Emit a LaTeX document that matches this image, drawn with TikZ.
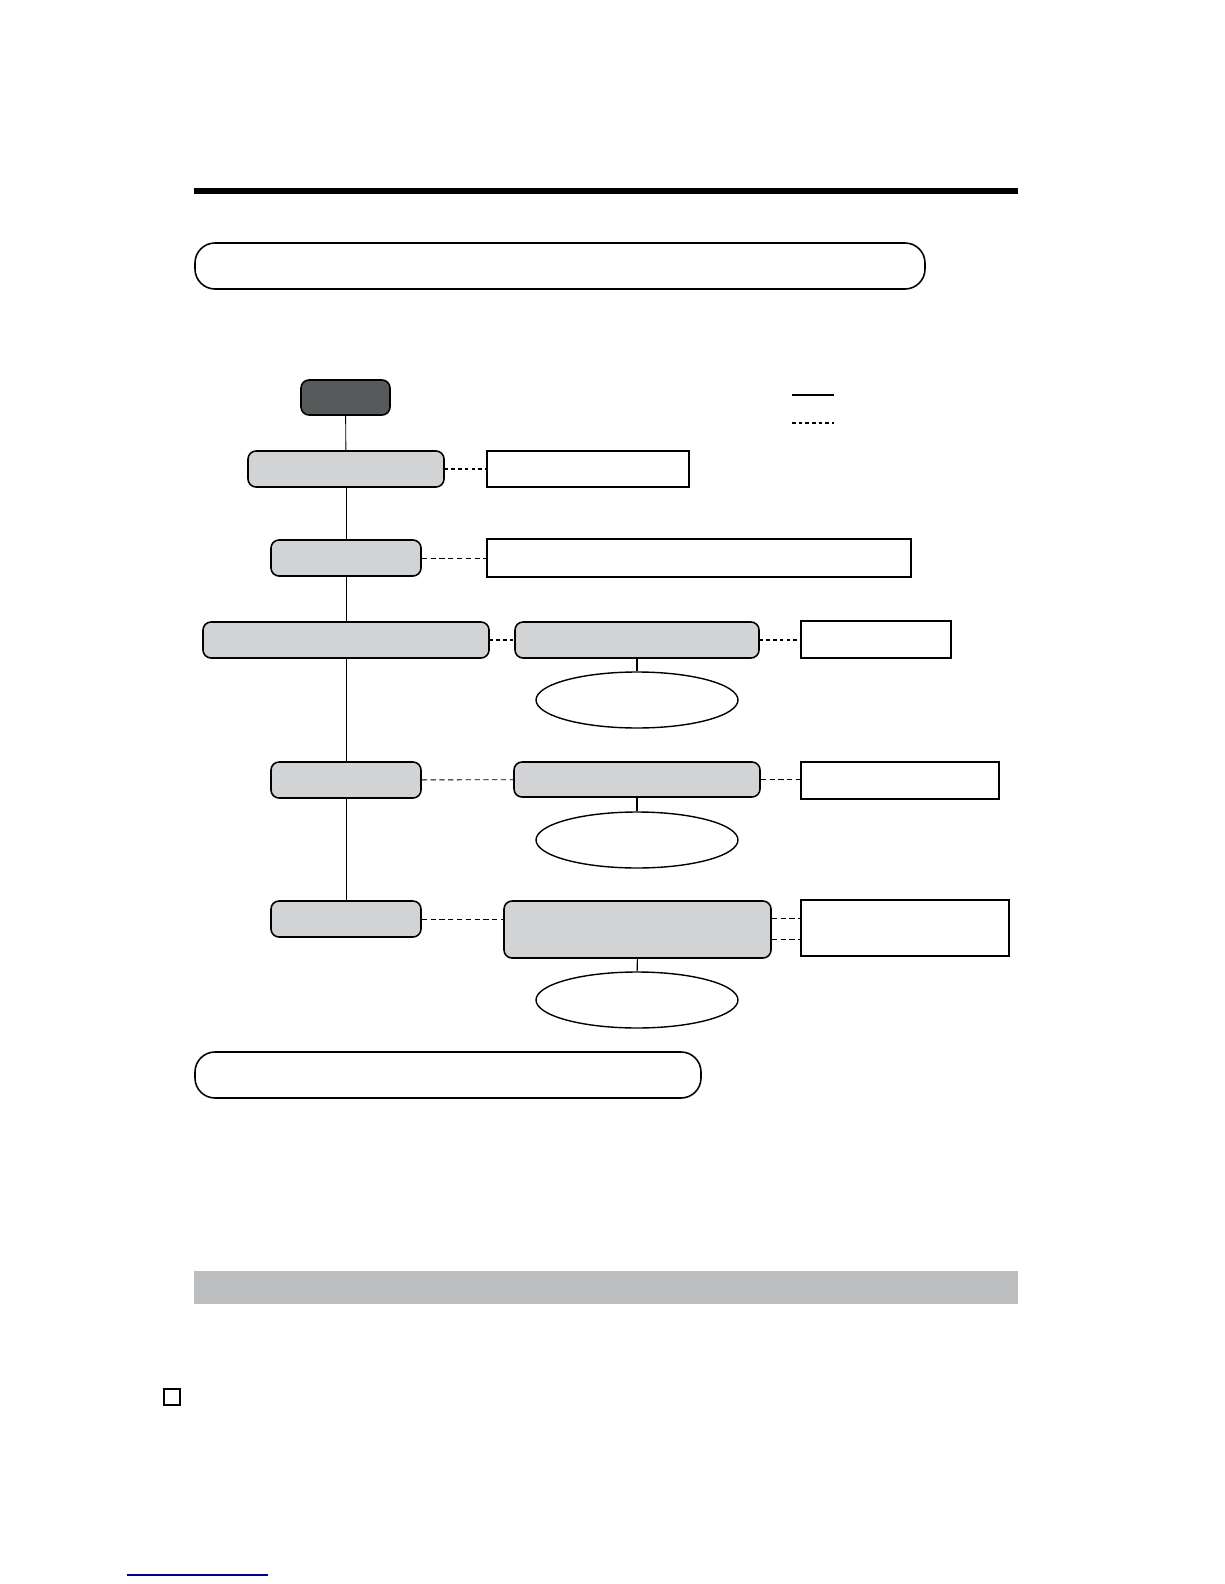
\documentclass[tikz,border=0pt]{standalone}
\usetikzlibrary{shapes.geometric}
\definecolor{boxgray}{HTML}{D1D3D4}
\definecolor{darkgray}{HTML}{58595B}
\definecolor{bandgray}{HTML}{BCBEC0}
\begin{document}
\begin{tikzpicture}[x=0.02cm,y=-0.02cm,
	gbox/.style 2 args={draw,rounded corners=0.16cm,fill=boxgray,line width=0.9pt,
		minimum width=#1*0.02cm,minimum height=#2*0.02cm,inner sep=0pt},
	notebox/.style 2 args={draw,line width=1pt,fill=white,
		minimum width=#1*0.02cm,minimum height=#2*0.02cm,inner sep=0pt},
	titlebox/.style={draw,rounded corners=0.4cm,line width=0.9pt,
		minimum width=#1*0.02cm,minimum height=0.92cm,inner sep=0pt},
	oval/.style={draw,ellipse,line width=0.8pt,minimum width=4.04cm,minimum height=1.12cm,inner sep=0pt},
	mainline/.style={line width=0.5pt},
	thickdot/.style={line width=1.5pt,dash pattern=on 2pt off 1.8pt},
	thindash/.style={line width=0.5pt,dash pattern=on 3pt off 2pt}]
	
	\useasboundingbox (0,0) rectangle (1224,1584);
	
	% top rule and title frames
	\draw[line width=0.12cm] (194,191) -- (1018,191);
	\node[titlebox=730] (head) at (560,266) {};
	\node[titlebox=506] (foot) at (448,1075) {};
	
	% legend
	\coordinate (l1a) at (792,395);
	\coordinate (l1b) at (834,395);
	\coordinate (l2a) at (792,423);
	\coordinate (l2b) at (834,423);
	\draw[line width=1pt] (l1a) -- (l1b);
	\draw[thickdot] (l2a) -- (l2b);
	
	% main column
	\node[gbox={89}{35},fill=darkgray] (start) at (345.5,397.5) {};
	\node[gbox={196}{36}] (a) at (346,469) {};
	\node[gbox={150}{36}] (b) at (346,558) {};
	\node[gbox={286}{36}] (c) at (346,640) {};
	\node[gbox={150}{36}] (d) at (346,780) {};
	\node[gbox={150}{36}] (e) at (346,919) {};
	
	\draw[mainline] (start) -- (a);
	\draw[mainline] (a) -- (b);
	\draw[mainline] (b) -- (c);
	\draw[mainline] (c) -- (d);
	\draw[mainline] (d) -- (e);
	
	% branches
	\node[notebox={202}{36}] (anote) at (588,469) {};
	\node[notebox={424}{38}] (bnote) at (699,558) {};
	
	\node[gbox={244}{36}] (c2) at (637,640) {};
	\node[notebox={150}{37}] (cnote) at (876,639.5) {};
	\node[oval] (cell) at (637,700) {};
	
	\node[gbox={246}{35}] (d2) at (637,779.5) {};
	\node[notebox={198}{37}] (dnote) at (900,780.5) {};
	\node[oval] (dell) at (637,840) {};
	
	\node[gbox={267}{57}] (e2) at (637.5,929.5) {};
	\node[notebox={208}{56}] (enote) at (905,928) {};
	\node[oval] (eell) at (637,1000) {};
	
	\draw[thickdot] (a) -- (anote);
	\draw[thindash] (b) -- (bnote);
	\draw[thickdot] (c) -- (c2);
	\draw[thickdot] (c2) -- (c2 -| cnote.west);
	\draw[line width=1pt] (c2) -- (cell);
	\draw[thindash] (d) -- (d2);
	\draw[thindash] (d2) -- (d2 -| dnote.west);
	\draw[line width=0.8pt] (d2) -- (dell);
	\draw[thindash] (e) -- (e -| e2.west);
	\draw[thindash] ([yshift=0.23cm]e2.east) -- ([yshift=0.23cm]e2.east -| enote.west);
	\draw[thindash] ([yshift=-0.19cm]e2.east) -- ([yshift=-0.19cm]e2.east -| enote.west);
	\draw[line width=0.6pt] (e2) -- (eell);
	
	% bottom of page
	\fill[bandgray] (194,1271) rectangle (1018,1304);
	\draw[line width=0.8pt] (164,1389) rectangle (180,1405);
	\draw[blue!60!black,line width=0.7pt] (127,1575) -- (268,1575);
	
\end{tikzpicture}
\end{document}
